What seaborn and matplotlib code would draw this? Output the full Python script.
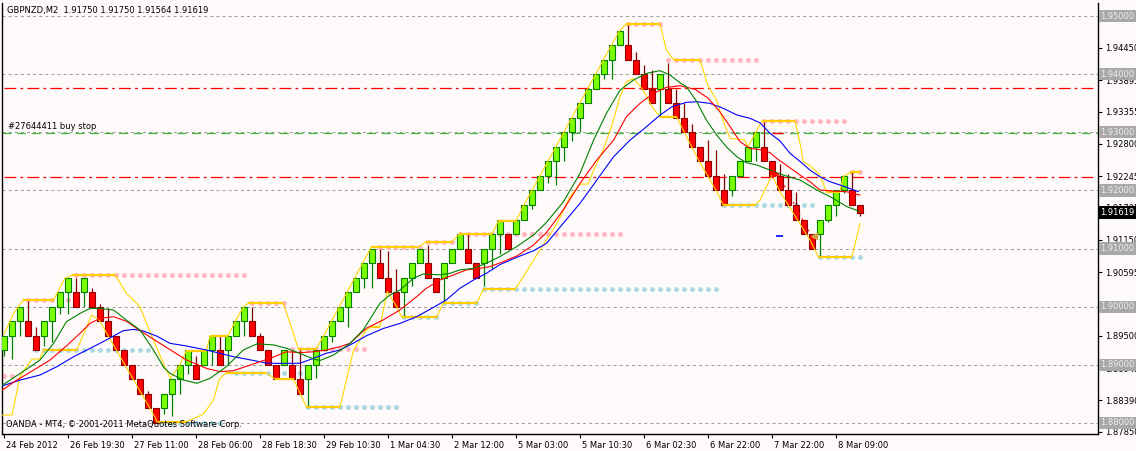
import numpy as np
import seaborn as sns
import matplotlib
matplotlib.use("Agg")
import matplotlib.pyplot as plt
from matplotlib.transforms import blended_transform_factory, ScaledTranslation

sns.set_style("white")
plt.rcParams['font.family'] = ['DejaVu Sans', 'Noto Sans']
plt.rcParams['lines.scale_dashes'] = False

# ---- renko bars (GBPNZD) ----
opens = [1.8925, 1.8950, 1.8975, 1.8975, 1.8950, 1.8950, 1.8975, 1.9000, 1.9025, 1.9025,
         1.9025, 1.9025, 1.9000, 1.8975, 1.8950, 1.8925, 1.8900, 1.8875, 1.8850, 1.8825,
         1.8825, 1.8850, 1.8875, 1.8900, 1.8900, 1.8900, 1.8925, 1.8925, 1.8925, 1.8950,
         1.8975, 1.8975, 1.8950, 1.8925, 1.8900, 1.8900, 1.8900, 1.8875, 1.8875, 1.8900,
         1.8925, 1.8950, 1.8975, 1.9000, 1.9025, 1.9050, 1.9075, 1.9075, 1.9050, 1.9025,
         1.9025, 1.9050, 1.9075, 1.9075, 1.9050, 1.9050, 1.9075, 1.9100, 1.9100, 1.9075,
         1.9075, 1.9100, 1.9125, 1.9125, 1.9125, 1.9150, 1.9175, 1.9200, 1.9225, 1.9250,
         1.9275, 1.9300, 1.9325, 1.9350, 1.9375, 1.9400, 1.9425, 1.9450, 1.9450, 1.9425,
         1.9400, 1.9375, 1.9375, 1.9375, 1.9350, 1.9325, 1.9300, 1.9275, 1.9250, 1.9225,
         1.9200, 1.9200, 1.9225, 1.9250, 1.9275, 1.9275, 1.9250, 1.9225, 1.9200, 1.9175,
         1.9150, 1.9125, 1.9125, 1.9150, 1.9175, 1.9200, 1.9200, 1.91750]
closes = [1.8950, 1.8975, 1.9000, 1.8950, 1.8925, 1.8975, 1.9000, 1.9025, 1.9050, 1.9000,
          1.9050, 1.9000, 1.8975, 1.8950, 1.8925, 1.8900, 1.8875, 1.8850, 1.8825, 1.8800,
          1.8850, 1.8875, 1.8900, 1.8925, 1.8875, 1.8925, 1.8950, 1.8900, 1.8950, 1.8975,
          1.9000, 1.8950, 1.8925, 1.8900, 1.8875, 1.8925, 1.8875, 1.8850, 1.8900, 1.8925,
          1.8950, 1.8975, 1.9000, 1.9025, 1.9050, 1.9075, 1.9100, 1.9050, 1.9025, 1.9000,
          1.9050, 1.9075, 1.9100, 1.9050, 1.9025, 1.9075, 1.9100, 1.9125, 1.9075, 1.9050,
          1.9100, 1.9125, 1.9150, 1.9100, 1.9150, 1.9175, 1.9200, 1.9225, 1.9250, 1.9275,
          1.9300, 1.9325, 1.9350, 1.9375, 1.9400, 1.9425, 1.9450, 1.9475, 1.9425, 1.9400,
          1.9375, 1.9350, 1.9400, 1.9350, 1.9325, 1.9300, 1.9275, 1.9250, 1.9225, 1.9200,
          1.9175, 1.9225, 1.9250, 1.9275, 1.9300, 1.9250, 1.9225, 1.9200, 1.9175, 1.9150,
          1.9125, 1.9100, 1.9150, 1.9175, 1.9200, 1.9225, 1.9175, 1.91619]
highs = [1.8950, 1.8975, 1.9000, 1.9010, 1.8965, 1.8975, 1.9000, 1.9025, 1.9050, 1.9050,
         1.9050, 1.90325, 1.9005, 1.8997, 1.8950, 1.8925, 1.8900, 1.8875, 1.8855, 1.8825,
         1.8850, 1.8875, 1.8900, 1.8925, 1.8915, 1.8925, 1.8950, 1.8950, 1.8950, 1.8975,
         1.9000, 1.9000, 1.8955, 1.8925, 1.8900, 1.8925, 1.8925, 1.8925, 1.8900, 1.8925,
         1.8950, 1.8975, 1.9000, 1.9025, 1.9050, 1.9075, 1.9100, 1.9100, 1.9095, 1.9065,
         1.9050, 1.9075, 1.9100, 1.91063, 1.9050, 1.9075, 1.9100, 1.9125, 1.9125, 1.9075,
         1.9100, 1.9125, 1.9150, 1.9125, 1.9150, 1.9175, 1.9200, 1.9225, 1.9250, 1.9275,
         1.9300, 1.9325, 1.9350, 1.9375, 1.9400, 1.9425, 1.9450, 1.9475, 1.9485, 1.94375,
         1.9415, 1.94075, 1.9400, 1.94188, 1.9375, 1.9350, 1.9315, 1.9275, 1.92875, 1.9270,
         1.92275, 1.9225, 1.9250, 1.9275, 1.9300, 1.93175, 1.9250, 1.9245, 1.92275, 1.91975,
         1.9150, 1.9125, 1.9150, 1.9175, 1.9200, 1.9225, 1.9231, 1.91750]
lows = [1.8915, 1.8910, 1.8950, 1.8950, 1.8925, 1.89325, 1.8940, 1.89875, 1.89875, 1.9000,
        1.9000, 1.9000, 1.8975, 1.8950, 1.8925, 1.8900, 1.8875, 1.8850, 1.8825, 1.8800,
        1.88163, 1.88125, 1.8850, 1.8885, 1.8875, 1.8900, 1.8900, 1.8900, 1.8900, 1.8950,
        1.8950, 1.8950, 1.8925, 1.8900, 1.8875, 1.8900, 1.8875, 1.8850, 1.8830, 1.88775,
        1.8925, 1.8940, 1.8975, 1.8965, 1.9025, 1.90325, 1.90325, 1.9050, 1.9025, 1.9000,
        1.89825, 1.9035, 1.9075, 1.9050, 1.9025, 1.90088, 1.9075, 1.9100, 1.9075, 1.9050,
        1.9035, 1.9065, 1.9090, 1.9100, 1.9125, 1.9150, 1.91675, 1.9200, 1.92125, 1.9210,
        1.9250, 1.9285, 1.9300, 1.9350, 1.9375, 1.93925, 1.93925, 1.9450, 1.9425, 1.9400,
        1.9375, 1.9350, 1.93268, 1.9350, 1.9325, 1.9300, 1.9275, 1.9250, 1.9225, 1.9200,
        1.9175, 1.9190, 1.9225, 1.9250, 1.9250, 1.9250, 1.9225, 1.9200, 1.9175, 1.9150,
        1.9125, 1.9100, 1.9086, 1.9145, 1.9156, 1.9195, 1.9175, 1.91564]

# ---- moving averages (read at sample bars) ----
ma_green_x = [-0.5, 2, 4.5, 6.2, 7.8, 9.5, 10.75, 12, 13.7, 15.3, 17, 18.7, 20, 20.75, 22.4, 24.1,
              25.75, 27.8, 29.9, 31.6, 33.7, 35.3, 37, 38.7, 39.5, 41.2, 43.25, 44.9, 47, 48.25,
              49.5, 51.2, 52.4, 54.5, 55.75, 57, 58.7, 60.3, 62, 64.1, 66.2, 67.8, 69.9, 72, 73.7,
              75.3, 77, 78.7, 80.3, 82, 83.25, 84.5, 85.3, 86.6, 87.8, 89.1, 90.3, 91.6, 92.8,
              94.1, 95.75, 97.4, 99.5, 101.6, 103.5, 105.3, 107]
ma_green_y = [1.88625, 1.8885, 1.89083, 1.8937, 1.89743, 1.89885, 1.8997, 1.8997, 1.89943, 1.8977,
              1.8960, 1.8925, 1.8895, 1.88855, 1.8874, 1.88683, 1.88768, 1.8897, 1.89255, 1.8936,
              1.89343, 1.89285, 1.89198, 1.8910, 1.89075, 1.8917, 1.8937, 1.8960, 1.9006, 1.90203,
              1.90288, 1.9049, 1.90563, 1.90548, 1.90575, 1.90633, 1.9066, 1.90748, 1.90863,
              1.91035, 1.91235, 1.9145, 1.9180, 1.92293, 1.92865, 1.93325, 1.93725, 1.9390,
              1.94013, 1.9406, 1.93985, 1.9385, 1.93785, 1.93525, 1.9321, 1.9295, 1.9275, 1.9258,
              1.92475, 1.92438, 1.9235, 1.92265, 1.92178, 1.92008, 1.91875, 1.91725, 1.91635]
ma_red_x = [-0.5, 1.6, 3.7, 5.75, 7.8, 9.5, 10.75, 12, 13.7, 15.3, 17, 19.5, 22.8, 25.3, 27, 28.67,
            30.33, 32, 33.5, 35.3, 37, 38.67, 40.3, 42, 43.25, 45.3, 47.4, 49.5, 51.6, 52.8, 54.5,
            56.2, 57.8, 59.5, 60.75, 62.4, 64.1, 66.2, 67.8, 69.9, 72, 74.1, 76.2, 77.8, 79.5,
            81.2, 82.8, 84.5, 86.4, 88, 89.5, 90.75, 92, 93.25, 94.5, 95.75, 96.6, 98.25, 99.5,
            100.75, 102, 103.7, 105.3, 107]
ma_red_y = [1.88538, 1.88738, 1.8891, 1.89083, 1.89325, 1.89543, 1.89713, 1.8980, 1.89828, 1.8975,
            1.89588, 1.8937, 1.89085, 1.8894, 1.88883, 1.8890, 1.88975, 1.89055, 1.89125, 1.89225,
            1.8921, 1.89225, 1.89255, 1.89313, 1.8937, 1.8963, 1.89773, 1.89945, 1.90175, 1.90318,
            1.9046, 1.90548, 1.90633, 1.9066, 1.9069, 1.90775, 1.90873, 1.91063, 1.91275, 1.91663,
            1.9212, 1.92523, 1.92865, 1.93268, 1.93498, 1.9367, 1.93773, 1.9380, 1.93738, 1.93588,
            1.9335, 1.9310, 1.92838, 1.92723, 1.9270, 1.9265, 1.9255, 1.92388, 1.92265, 1.9215,
            1.92008, 1.91988, 1.91978, 1.9192]
ma_blue_x = [-0.5, 2, 4.5, 6.6, 8.7, 10.75, 12.8, 14.9, 16.2, 17.4, 19.08, 20.75, 22.8, 25.3, 27,
             28.7, 31.2, 32.8, 34.5, 37, 38.7, 40.3, 42, 43.7, 45.3, 47.4, 49.5, 51.6, 53.7, 55.3,
             57, 58.7, 60.3, 62, 64.1, 66.2, 67.8, 69.9, 72, 74.1, 76.2, 78.25, 80.3, 82, 83.5,
             85.3, 86.6, 88.25, 89.9, 91.6, 93.25, 94.5, 95.75, 97, 98.25, 99.5, 100.75, 102,
             103.25, 104.9, 106.8]
ma_blue_y = [1.88625, 1.88738, 1.88825, 1.88968, 1.8914, 1.89283, 1.89428, 1.89588, 1.8961, 1.89583,
             1.89495, 1.8937, 1.89325, 1.89255, 1.89198, 1.8914, 1.89075, 1.8903, 1.89025, 1.89028,
             1.89113, 1.8920, 1.89255, 1.89375, 1.8950, 1.89625, 1.89713, 1.8983, 1.8999, 1.90118,
             1.90318, 1.9046, 1.90575, 1.90725, 1.9085, 1.90963, 1.91088, 1.91433, 1.91778,
             1.92178, 1.9258, 1.92865, 1.93095, 1.93295, 1.9344, 1.93515, 1.93525, 1.93498,
             1.93413, 1.93298, 1.9324, 1.93163, 1.92983, 1.9285, 1.92638, 1.9250, 1.9235, 1.92235,
             1.9215, 1.92075, 1.91978]

# ---- price channel (yellow) ----
upper_x = [0, 1.2, 2.4, 6.2, 7.6, 8.5, 13.9, 15.3, 17, 18, 19, 20, 20.8, 22, 22.8, 25.3, 25.75, 28,
           28.9, 29.9, 30.5, 34.9, 35.9, 36.8, 39, 39.9, 45.9, 51.8, 52.8, 56, 56.9, 61, 61.8, 64,
           64.9, 76.9, 77.8, 82, 82.8, 83.7, 87, 88, 89.1, 89.7, 90.75, 92.6, 93.0, 93.9, 94.7,
           98.9, 99.6, 99.9, 100.75, 102, 102.8, 104.5, 104.9, 105.75, 107]
upper_y = [1.89525, 1.89885, 1.90115, 1.90115, 1.90488, 1.90545, 1.90545, 1.9023, 1.9000, 1.8965,
           1.89325, 1.8900, 1.88768, 1.8900, 1.89245, 1.89245, 1.89498, 1.89498, 1.8975, 1.89988,
           1.90058, 1.90058, 1.89655, 1.89268, 1.89268, 1.89485, 1.91023, 1.91023, 1.9112, 1.9112,
           1.9125, 1.9125, 1.91475, 1.91475, 1.91725, 1.9474, 1.94863, 1.94863, 1.94415, 1.94243,
           1.94243, 1.9380, 1.9355, 1.93268, 1.92895, 1.92868, 1.9275, 1.92983, 1.93188, 1.93188,
           1.9275, 1.92493, 1.92425, 1.92265, 1.91978, 1.91978, 1.92235, 1.9231, 1.9231]
lower_x = [-0.25, 1, 2, 3.5, 4.5, 4.9, 9.1, 10.96, 11.9, 18.96, 19.1, 22.8, 24.9, 26.2, 26.9, 27.8,
           32.8, 33.9, 36.2, 37.2, 37.8, 42, 42.8, 43.7, 45.3, 46, 47, 47.9, 49.1, 49.7, 54.1, 54.9,
           59.1, 59.9, 63.9, 67, 69.1, 70.75, 72, 73, 73.9, 74.9, 76, 77, 77.8, 78.7, 79.9, 81, 82,
           84.1, 84.9, 86, 87, 88.05, 89.1, 89.9, 93.9, 94.5, 96, 97, 100.75, 101.8, 106, 107]
lower_y = [1.88138, 1.88138, 1.8880, 1.8910, 1.8910, 1.89255, 1.89255, 1.89858, 1.8977, 1.8808,
           1.88023, 1.88023, 1.8815, 1.8840, 1.8875, 1.88865, 1.88865, 1.88753, 1.88753, 1.88453,
           1.88275, 1.88275, 1.8874, 1.89258, 1.8960, 1.89658, 1.89658, 1.9026, 1.9000, 1.89825,
           1.89825, 1.9006, 1.9006, 1.9030, 1.9030, 1.90975, 1.91425, 1.91893, 1.9211, 1.9211,
           1.92408, 1.92695, 1.93125, 1.93613, 1.9387, 1.93925, 1.93725, 1.9344, 1.93268, 1.93263,
           1.93038, 1.9274, 1.92475, 1.92235, 1.91978, 1.91748, 1.91748, 1.91835, 1.92265,
           1.91978, 1.91148, 1.9086, 1.9086, 1.91433]
# flat channel sections drawn thicker
flat_start = [2.4, 8.5, 22.8, 25.75, 30.5, 36.8, 45.9, 52.8, 56.9, 61.8, 77.8, 83.7, 94.7, 102.8,
              105.75, 4.9, 19.1, 27.8, 33.9, 37.8, 46, 49.7, 54.9, 59.9, 82, 89.9, 101.8]
flat_end = [6.2, 13.9, 25.3, 28, 34.9, 39, 51.8, 56, 61, 64, 82, 87, 98.9, 104.5, 107, 9.1, 22.8,
            32.8, 36.2, 42, 47, 54.1, 59.1, 63.9, 84.1, 93.9, 106]
flat_level = [1.90115, 1.90545, 1.89245, 1.89498, 1.90058, 1.89268, 1.91023, 1.9112, 1.9125,
              1.91475, 1.94863, 1.94243, 1.93188, 1.91978, 1.9231, 1.89255, 1.88023, 1.88865,
              1.88753, 1.88275, 1.89658, 1.89825, 1.9006, 1.9030, 1.93265, 1.91748, 1.9086]

# resistance (pink) and support (light blue) dotted levels: level, first bar, last bar
res_level = [1.88808, 1.90115, 1.90545, 1.90058, 1.89268, 1.91023, 1.9112, 1.9125, 1.94863,
             1.94243, 1.93188, 1.9231]
res_first = [0, 3, 9, 31, 36, 47, 53, 57, 78, 83, 95, 106]
res_last = [1, 8, 30, 35, 45, 52, 56, 77, 82, 94, 105, 107]
sup_level = [1.89255, 1.88005, 1.88865, 1.88275, 1.89825, 1.9006, 1.9030, 1.91748, 1.9086]
sup_first = [4, 20, 29, 38, 50, 55, 60, 90, 102]
sup_last = [18, 27, 37, 49, 54, 59, 89, 101, 107]

# horizontal objects
grid_levels = [1.88, 1.89, 1.90, 1.91, 1.92, 1.93, 1.94, 1.95]
red_levels = [1.93757, 1.92226]
buy_stop_level = 1.92983

# axis labels
ytick_vals = [1.94450, 1.93895, 1.93355, 1.92800, 1.92245, 1.91705, 1.91150, 1.90595, 1.90040,
              1.89500, 1.88945, 1.88390, 1.87850]
xtick_pos = [0, 8, 16, 24, 32, 40, 48, 56, 64, 72, 80, 88, 96, 104]
xtick_labels = ["24 Feb 2012", "26 Feb 19:30", "27 Feb 11:00", "28 Feb 06:00", "28 Feb 18:30",
                "29 Feb 10:30", "1 Mar 04:30", "2 Mar 12:00", "5 Mar 03:00", "5 Mar 10:30",
                "6 Mar 02:30", "6 Mar 22:00", "7 Mar 22:00", "8 Mar 09:00"]

BG = '#FFFAFA'
FS = 6.0

fig = plt.figure(figsize=(11.36, 4.51), dpi=100, facecolor=BG)
ax = fig.add_axes([2 / 1136, 17 / 451, 1096 / 1136, 431 / 451], facecolor=BG)

for lv in grid_levels:
    ax.axhline(lv, color='#A0A0A0', lw=0.75, dashes=(2.2, 2.2), zorder=1)
for lv in red_levels:
    ax.axhline(lv, xmin=0.002, xmax=0.995, color='#FF0000', lw=0.9,
               dashes=(8.5, 3.0, 2.0, 3.0), zorder=1.2)
ax.axhline(buy_stop_level, color='#3CB83C', lw=0.9, dashes=(6.5, 4.0), zorder=1.2)

# dotted levels
rx, ry, sx, sy = [], [], [], []
for lv, a, b in zip(res_level, res_first, res_last):
    rx += list(range(a, b + 1)); ry += [lv] * (b - a + 1)
for lv, a, b in zip(sup_level, sup_first, sup_last):
    sx += list(range(a, b + 1)); sy += [lv] * (b - a + 1)
sns.scatterplot(x=rx, y=ry, ax=ax, color='#FFB6C1', s=13, linewidth=0, zorder=2)
sns.scatterplot(x=sx, y=sy, ax=ax, color='#ADD8E6', s=13, linewidth=0, zorder=2)

# candles
o = np.array(opens); c = np.array(closes); h = np.array(highs); l = np.array(lows)
idx = np.arange(len(o))
up = c >= o
ax.vlines(idx[up], l[up], h[up], color='#008000', lw=0.9, zorder=3)
ax.vlines(idx[~up], l[~up], h[~up], color='#800000', lw=0.9, zorder=3)
ax.bar(idx[up], (c - o)[up], bottom=o[up], width=0.7, color='#7CFC00',
       edgecolor='#008000', linewidth=0.8, zorder=3.1)
ax.bar(idx[~up], (o - c)[~up], bottom=c[~up], width=0.7, color='#FF0000',
       edgecolor='#8B0000', linewidth=0.8, zorder=3.1)

# channel
sns.lineplot(x=upper_x, y=upper_y, ax=ax, color='#FFD700', lw=0.8, sort=False,
             estimator=None, zorder=4)
sns.lineplot(x=lower_x, y=lower_y, ax=ax, color='#FFD700', lw=0.8, sort=False,
             estimator=None, zorder=4)
ax.hlines(flat_level, flat_start, flat_end, color='#FFCC00', lw=1.6, zorder=4.1)

# moving averages
sns.lineplot(x=ma_blue_x, y=ma_blue_y, ax=ax, color='#0000FF', lw=0.8, sort=False,
             estimator=None, zorder=4.5)
sns.lineplot(x=ma_red_x, y=ma_red_y, ax=ax, color='#FF0000', lw=0.8, sort=False,
             estimator=None, zorder=4.6)
sns.lineplot(x=ma_green_x, y=ma_green_y, ax=ax, color='#008000', lw=0.8, sort=False,
             estimator=None, zorder=4.7)

# trade markers
ax.hlines(buy_stop_level, 96, 97.4, color='#FF0000', lw=1.0, zorder=5)
ax.plot([96.8, 100.8], [1.92275, 1.9125], color='#FF0000', lw=0.8,
        linestyle=(0, (1.5, 3)), zorder=5)
ax.plot([96.4], [1.92275], marker='>', color='#FF0000', markersize=4.5, zorder=5.1)
ax.plot([101.2], [1.9121], marker='<', color='#D4A040', markersize=5, zorder=5.1)
ax.hlines(1.91213, 96.5, 97.4, color='#0000FF', lw=1.2, zorder=5)

ax.set_xlim(-0.25, 136.75)
ax.set_ylim(1.878108, 1.952236)

for side in ['left', 'right', 'bottom']:
    ax.spines[side].set_color('black')
    ax.spines[side].set_linewidth(1.0)
ax.spines['top'].set_visible(False)

ax.yaxis.tick_right()
ax.set_yticks(ytick_vals)
ax.set_yticklabels(['%.5f' % v for v in ytick_vals])
ax.tick_params(axis='y', direction='out', length=3, width=0.8, labelsize=FS, pad=2,
               colors='black', right=True, left=False)
ax.set_xticks(xtick_pos)
ax.set_xticklabels(xtick_labels, ha='left')
ax.tick_params(axis='x', direction='out', length=3, width=0.8, labelsize=FS, pad=2,
               colors='black', bottom=True)
shift = ScaledTranslation(2 / 100, 0, fig.dpi_scale_trans)
for lab in ax.get_xticklabels():
    lab.set_transform(lab.get_transform() + shift)
ax.set_xlabel('')
ax.set_ylabel('')

# price boxes on the right scale
tr = blended_transform_factory(ax.transAxes, ax.transData)
for lv in grid_levels:
    ax.text(1.0022, lv, '%.5f' % lv, transform=tr, ha='left', va='center', fontsize=FS,
            color='#EDEDED', clip_on=False, zorder=10,
            bbox=dict(boxstyle='square,pad=0.2', fc='#A8A8A8', ec='none'))
ax.text(1.0022, closes[-1], '%.5f' % closes[-1], transform=tr, ha='left', va='center',
        fontsize=FS, color='white', clip_on=False, zorder=11,
        bbox=dict(boxstyle='square,pad=0.2', fc='black', ec='none'))

# chart texts
fig.text(7 / 1136, 1 - 10 / 451, 'GBPNZD,M2  1.91750 1.91750 1.91564 1.91619',
         ha='left', va='center', fontsize=FS, color='black')
ax.text(6 / 1096, 1.93091, '#27644411 buy stop', transform=tr, ha='left', va='center',
        fontsize=FS, color='black', zorder=6)
ax.text(4 / 1096, 1.87966, 'OANDA - MT4, \u00a9 2001-2011 MetaQuotes Software Corp.',
        transform=tr, ha='left', va='center', fontsize=FS, color='black', zorder=6)

fig.savefig('out.png', dpi=100, facecolor=BG)
